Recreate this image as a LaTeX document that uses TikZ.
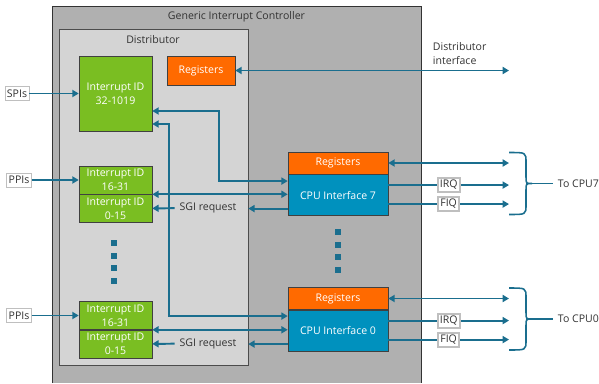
\documentclass[tikz,border=0pt]{standalone}
\usepackage{fontspec}
\setmainfont{Open Sans}
\usetikzlibrary{arrows.meta, calc}
\definecolor{gicGray}{RGB}{176,176,176}
\definecolor{distGray}{RGB}{212,212,212}
\definecolor{idGreen}{RGB}{122,190,34}
\definecolor{regOrange}{RGB}{255,106,0}
\definecolor{cpuBlue}{RGB}{0,145,190}
\definecolor{wireTeal}{RGB}{26,110,142}
\definecolor{txtGray}{RGB}{51,51,51}
\newcommand\pxl{0.025cm}
\newcommand\gicfont{\fontsize{7.5}{10}\selectfont}
\tikzset{
	blockbox/.style={draw=black!75, inner sep=0pt, align=center, text=white, font=\gicfont},
	idbox/.style={blockbox, fill=idGreen, minimum width=73*\pxl},
	regbox/.style={blockbox, fill=regOrange, minimum height=22*\pxl},
	cpubox/.style={blockbox, fill=cpuBlue, minimum width=100*\pxl, minimum height=41*\pxl},
	tagbox/.style={draw=black!25, fill=white, text=txtGray, inner sep=1.5pt,
		minimum height=14*\pxl, font=\gicfont},
	plaintext/.style={text=txtGray, font=\gicfont},
	wire/.style={draw=wireTeal, line width=1.4pt},
}

\begin{document}
\begin{tikzpicture}[x=\pxl, y=-\pxl, >={Triangle[length=4.5pt,width=5pt]}]
	\useasboundingbox (0,0) rectangle (599,383);

	% controller frame, open at the bottom edge
	\fill[gicGray] (52,6) rectangle (421,383);
	\draw[black!80, thin] (52,383) -- (52,6) -- (421,6) -- (421,383);
	\node[plaintext] (gictitle) at (236.5,17) {Generic Interrupt Controller};

	\node[draw=black!70, fill=distGray, minimum width=189*\pxl, minimum height=336*\pxl,
		inner sep=0pt] (dist) at (153.5,197) {};
	\node[plaintext] (disttitle) at (153,40) {Distributor};

	% shared peripheral interrupts and the distributor registers
	\node[idbox, minimum height=75*\pxl] (spi) at (115.5,93.5) {Interrupt ID\\32-1019};
	\node[regbox, minimum width=68*\pxl, minimum height=29*\pxl] (dreg) at (201,70.5) {Registers};
	\node[tagbox] (spis) at (17,93.5) {SPIs};
	\draw[wire,->] (spis) -- (spi);

	\coordinate (difend) at (509,70.5);
	\draw[wire,<->] (dreg) -- (difend);
	\node[plaintext, align=left, anchor=west] (diftext) at (428,54) {Distributor\\interface};

	% one group per CPU interface, CPU0 sits 135.5px below CPU7
	\foreach \n/\dy in {7/0, 0/135.5}
	{
		\begin{scope}[shift={(0,\dy)}]
			\node[idbox, minimum height=28*\pxl] (ppi\n) at (115.5,180) {Interrupt ID\\16-31};
			\node[idbox, minimum height=28*\pxl, anchor=north] (sgi\n) at (ppi\n.south)
				{Interrupt ID\\0-15};
			\node[tagbox] (ppis\n) at (19,180) {PPIs};
			\node[regbox, minimum width=100*\pxl] (creg\n) at (338,163) {Registers};
			\node[cpubox, anchor=north] (cpu\n) at (creg\n.south) {CPU Interface \n};
			\node[plaintext] (sgireq\n) at (208,208) {SGI request};
			\coordinate (btop\n) at (509,152.5);
			\coordinate (bbot\n) at (509,214.5);
			\coordinate (btip\n) at (532,183.5);
			\node[plaintext, anchor=west] (tocpu\n) at (553,183.5) {To CPU\n};
			% brace gathering the three CPU lines
			\draw[wire, line width=1.1pt] (btop\n) .. controls (526,152.5) .. (526,162)
				-- (526,177) .. controls (526,183.5) .. (btip\n)
				.. controls (526,183.5) .. (526,190) -- (526,205)
				.. controls (526,214.5) .. (bbot\n);
		\end{scope}
		\coordinate (irq\n) at ($(cpu\n.east)+(0,-10)$);
		\coordinate (fiq\n) at ($(cpu\n.east)+(0,9)$);

		\draw[wire,->] (ppis\n) -- (ppi\n);
		\draw[wire,<->] (ppi\n.south east) -- (ppi\n.south east -| cpu\n.west);
		\draw[wire,->] (cpu\n.west |- sgi\n.east) -- (dist.east |- sgi\n.east);
		\draw[wire,->] (sgireq\n) -- (sgi\n);
		\draw[wire,<->] (creg\n) -- (creg\n.east -| btop\n);
		\draw[wire,->] (irq\n) -- (irq\n -| btop\n) node[tagbox, midway] (irqtag\n) {IRQ};
		\draw[wire,->] (fiq\n) -- (fiq\n -| btop\n) node[tagbox, midway] (fiqtag\n) {FIQ};
		\draw[wire, line width=1.1pt] (btip\n) -- (tocpu\n.west);
	}

	% SPI routes down to each CPU interface
	\coordinate (spiA) at ($(spi.east)+(0,17.5)$);
	\coordinate (spiB) at ($(spi.east)+(0,30.5)$);
	\coordinate (cpuA) at ($(cpu7.west)+(0,-14)$);
	\coordinate (cpuB) at ($(cpu0.west)+(0,-14.5)$);
	\draw[wire,<->] (spiA) -| (219,0 |- cpuA) -- (cpuA);
	\draw[wire,<->] (spiB) -| (169,0 |- cpuB) -- (cpuB);

	% ellipsis dots
	\foreach \k in {0,...,3}
	{
		\fill[wireTeal] (111,240+12.7*\k) rectangle ++(6,6);
		\fill[wireTeal] (335,229+12.7*\k) rectangle ++(6,6);
	}
\end{tikzpicture}
\end{document}
